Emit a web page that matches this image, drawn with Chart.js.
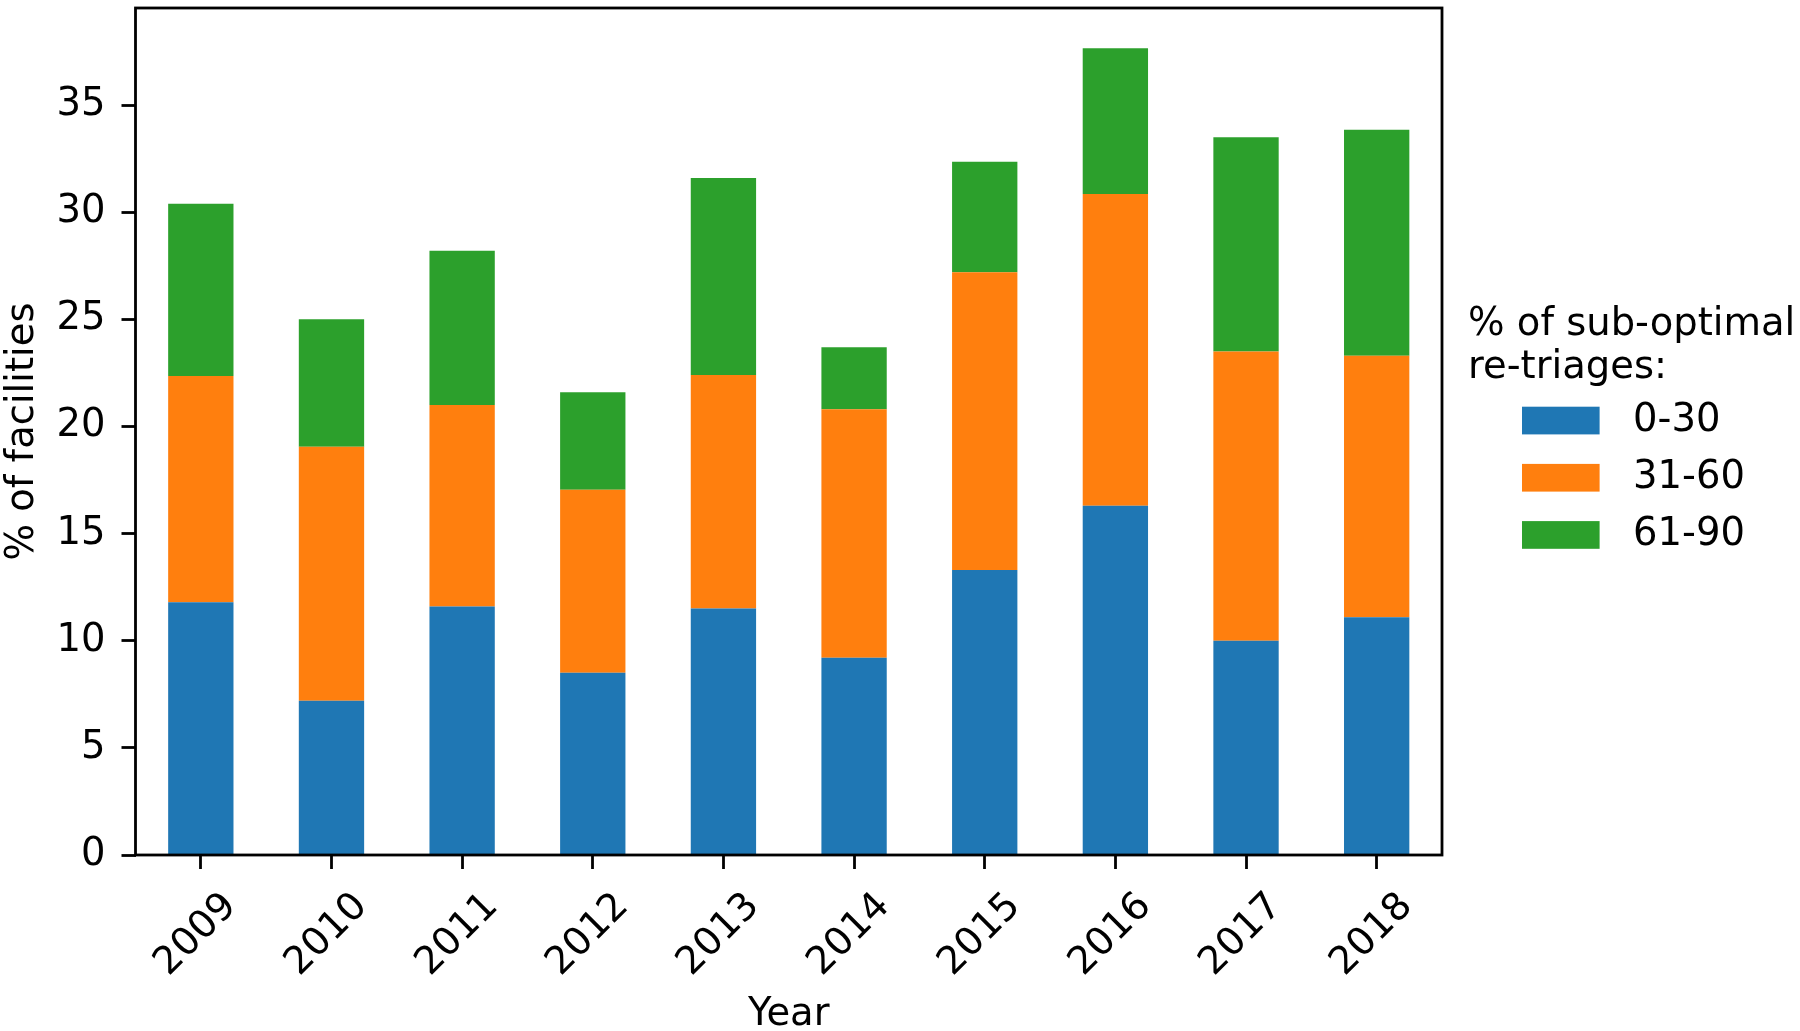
<!DOCTYPE html>
<html>
<head>
<meta charset="utf-8">
<script src="https://cdn.jsdelivr.net/npm/chart.js@4.4.1/dist/chart.umd.min.js"></script>
<style>
  body { margin: 0; background: #fff; }
  canvas { display: block; }
</style>
</head>
<body>
<canvas id="chart" width="1800" height="1031"></canvas>
<script>
const years = ["2009", "2010", "2011", "2012", "2013", "2014", "2015", "2016", "2017", "2018"];

// % of facilities, stacked by share of sub-optimal re-triages
const share0to30 = [11.8, 7.2, 11.6, 8.5, 11.5, 9.2, 13.3, 16.3, 10.0, 11.1];
const share31to60 = [10.55, 11.85, 9.4, 8.55, 10.9, 11.6, 13.9, 14.55, 13.5, 12.2];
const share61to90 = [8.05, 5.95, 7.2, 4.55, 9.2, 2.9, 5.15, 6.8, 10.0, 10.55];

const yTicks = [0, 5, 10, 15, 20, 25, 30, 35];
const legendTitle = ["% of sub-optimal", "re-triages:"];

const FONT = "DejaVu Sans";
const FS = 38.5;

// box around the plot, drawn over the bars like matplotlib spines
const framePlugin = {
  id: "frame",
  afterDatasetsDraw(chart) {
    const a = chart.chartArea;
    const ctx = chart.ctx;
    ctx.save();
    ctx.strokeStyle = "#000";
    ctx.lineWidth = 2.8;
    ctx.strokeRect(a.left, a.top, a.right - a.left, a.bottom - a.top);
    ctx.restore();
  }
};

// legend with a two-line title, right of the plot
const sideLegend = {
  id: "sideLegend",
  afterDraw(chart) {
    const ctx = chart.ctx;
    const x0 = chart.chartArea.right + 26;
    ctx.save();
    ctx.fillStyle = "#000";
    ctx.font = FS + "px '" + FONT + "'";
    ctx.textAlign = "left";
    ctx.textBaseline = "alphabetic";
    legendTitle.forEach((line, i) => {
      ctx.fillText(line, x0, 335 + i * 43.3);
    });
    chart.data.datasets.forEach((ds, i) => {
      const top = 406.7 + i * 57.2;
      ctx.fillStyle = ds.backgroundColor;
      ctx.fillRect(x0 + 54, top, 77.6, 27.7);
      ctx.fillStyle = "#000";
      ctx.textBaseline = "middle";
      ctx.fillText(ds.label, x0 + 165, top + 14);
    });
    ctx.restore();
  }
};

const ctx = document.getElementById("chart").getContext("2d");

new Chart(ctx, {
  type: "bar",
  data: {
    labels: years,
    datasets: [
      { label: "0-30", data: share0to30, backgroundColor: "#1f77b4" },
      { label: "31-60", data: share31to60, backgroundColor: "#ff7f0e" },
      { label: "61-90", data: share61to90, backgroundColor: "#2ca02c" }
    ]
  },
  options: {
    responsive: false,
    animation: false,
    devicePixelRatio: 1,
    layout: { padding: { top: 8, right: 358, bottom: 0, left: 0 } },
    datasets: {
      bar: { barPercentage: 0.5, categoryPercentage: 1.0, borderWidth: 0 }
    },
    plugins: {
      legend: { display: false },
      tooltip: { enabled: false }
    },
    scales: {
      x: {
        stacked: true,
        offset: true,
        border: { display: false },
        grid: { offset: false, drawOnChartArea: false, tickLength: 14, tickWidth: 2.8, tickColor: "#000" },
        ticks: {
          color: "#000",
          font: { family: FONT, size: FS },
          minRotation: 45,
          maxRotation: 45,
          padding: 15,
          labelOffset: 30
        },
        title: {
          display: true,
          text: "Year",
          color: "#000",
          font: { family: FONT, size: FS },
          padding: { top: 0, bottom: -7 }
        },
        afterFit(s) {
          s.height = 176;
          s.paddingLeft = 0;
          s.paddingRight = 0;
        }
      },
      y: {
        stacked: true,
        min: 0,
        max: 39.53,
        border: { display: false },
        grid: { drawOnChartArea: false, tickLength: 14, tickWidth: 2.8, tickColor: "#000" },
        ticks: {
          color: "#000",
          font: { family: FONT, size: FS },
          padding: 16,
          includeBounds: false
        },
        afterBuildTicks(s) {
          s.ticks = yTicks.map(v => ({ value: v }));
        },
        title: {
          display: true,
          text: "% of facilities",
          color: "#000",
          font: { family: FONT, size: FS },
          padding: { top: 0, bottom: 0 }
        },
        afterFit(s) {
          s.width = 135.5;
          s.paddingTop = 0;
          s.paddingBottom = 0;
        }
      }
    }
  },
  plugins: [framePlugin, sideLegend]
});
</script>
</body>
</html>
